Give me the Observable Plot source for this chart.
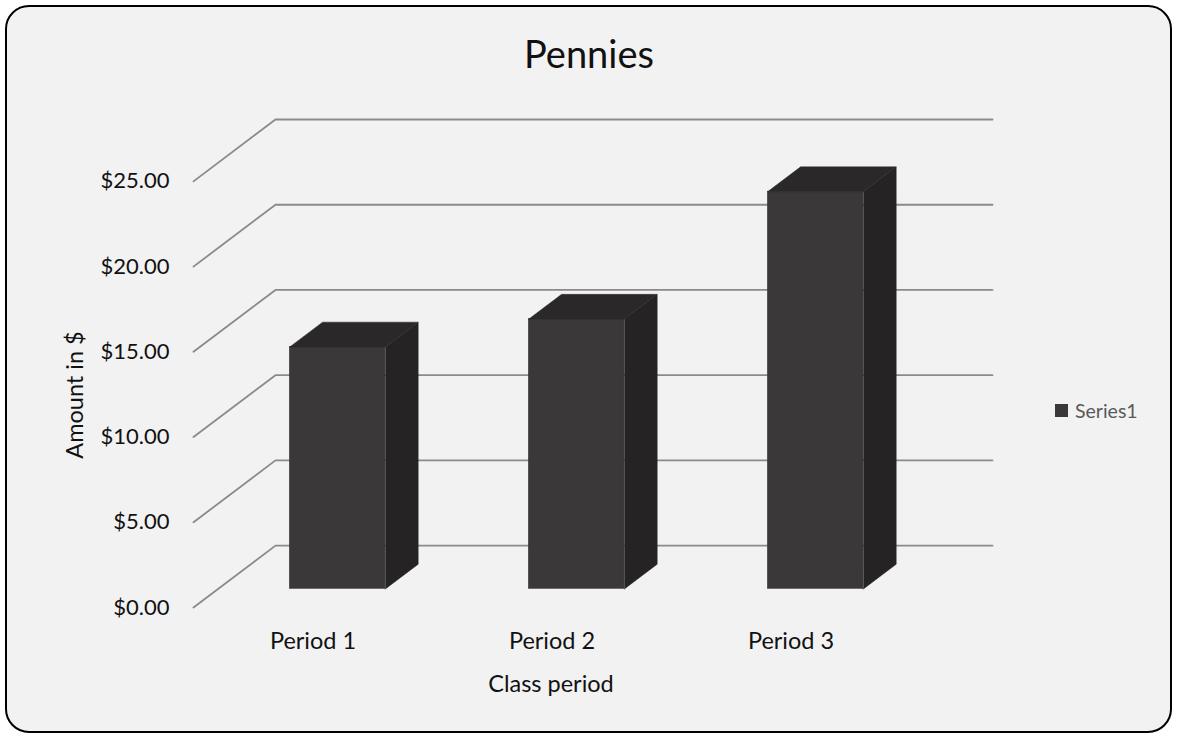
<!DOCTYPE html>
<html><head><meta charset="utf-8">
<script src="https://cdn.jsdelivr.net/npm/d3@7"></script>
<script src="https://cdn.jsdelivr.net/npm/@observablehq/plot@0.6"></script>
<style>
body{margin:0;background:#fff;font-family:Lato,sans-serif;}
#wrap{position:relative;width:1177px;height:734px;overflow:hidden}
#card{position:absolute;left:5px;top:5px;width:1167px;height:728px;box-sizing:border-box;border:2.5px solid #000;border-radius:24px;background:#f2f2f2}
#chart{position:absolute;left:0;top:0}
.t{position:absolute;white-space:nowrap;line-height:1;font-family:Lato,sans-serif}
#title{left:589px;top:34px;font-size:38px;color:#111;transform:translateX(-50%)}
#ytitle{left:75px;top:395px;font-size:23.5px;color:#111;transform:translate(-50%,-50%) rotate(-90deg)}
#xtitle{left:551px;top:672px;font-size:23.5px;color:#111;transform:translateX(-50%)}
#legend{left:1055px;top:401px;font-size:19.5px;color:#595959;display:flex;align-items:center;gap:7px}
#legend .sw{width:13px;height:13px;background:#3a3839;display:inline-block}
</style></head><body>
<div id="wrap"><div id="card"></div><div id="chart"></div>
<div class="t" id="title"></div>
<div class="t" id="ytitle"></div>
<div class="t" id="xtitle"></div>
<div class="t" id="legend"><span class="sw"></span><span id="legtext"></span></div>
</div>
<script>
// ---- data ----
const chartTitle = "Pennies";
const xTitle = "Class period";
const yTitle = "Amount in $";
const seriesName = "Series1";
const categories = ["Period 1", "Period 2", "Period 3"];
const values = [14.2, 15.83, 23.31];
const yTicks = [0, 5, 10, 15, 20, 25];

document.getElementById("title").textContent = chartTitle;
document.getElementById("xtitle").textContent = xTitle;
document.getElementById("ytitle").textContent = yTitle;
document.getElementById("legtext").textContent = seriesName;

// ---- 3D projection (oblique) in data units ----
const depth = {x: 0.343, y: 3.63};   // full depth offset: categories, dollars
const barFront = 0.3, barBack = 0.7, halfWidth = 0.2;
const proj = (x, y, d) => ({x: x + d * depth.x, y: y + d * depth.y});

const yMax = yTicks[yTicks.length - 1];
const nCat = categories.length;

const gridPts = yTicks.flatMap(v =>
  [proj(0, v, 0), proj(0, v, 1), proj(nCat, v, 1)].map(p => ({...p, v})));

const bars = categories.map((c, i) => ({c, i, v: values[i], x0: i + 0.5 - halfWidth, x1: i + 0.5 + halfWidth}));

const frontFaces = bars.map(b => {
  const a = proj(b.x0, 0, barFront), c = proj(b.x1, b.v, barFront);
  return {x1: a.x, y1: a.y, x2: c.x, y2: c.y};
});
const sideFaces = bars.flatMap(b => [
  proj(b.x1, 0, barFront), proj(b.x1, 0, barBack), proj(b.x1, b.v, barBack), proj(b.x1, b.v, barFront)
].map(p => ({...p, id: b.c})));
const topFaces = bars.flatMap(b => [
  proj(b.x0, b.v, barFront), proj(b.x0, b.v, barBack), proj(b.x1, b.v, barBack), proj(b.x1, b.v, barFront)
].map(p => ({...p, id: b.c})));

const plot = Plot.plot({
  width: 1177, height: 734,
  marginLeft: 193, marginRight: 185, marginTop: 119, marginBottom: 127,
  x: {type: "linear", domain: [0, nCat + depth.x]},
  y: {type: "linear", domain: [0, yMax + depth.y]},
  style: {background: "transparent", fontFamily: "Lato, sans-serif", fontSize: "22px", color: "#111", overflow: "visible"},
  marks: [
    Plot.line(gridPts, {x: "x", y: "y", z: "v", stroke: "#8a8a8a", strokeWidth: 1.8}),
    Plot.rect(frontFaces, {x1: "x1", x2: "x2", y1: "y1", y2: "y2", fill: "#3a3839", stroke: "#3a3839", strokeWidth: 0.5}),
    Plot.line(sideFaces, {x: "x", y: "y", z: "id", fill: "#252324", stroke: "#252324", strokeWidth: 0.5, curve: "linear-closed"}),
    Plot.line(topFaces, {x: "x", y: "y", z: "id", fill: "#2a2829", stroke: "#2a2829", strokeWidth: 0.5, curve: "linear-closed"}),
    Plot.axisY({ticks: yTicks, tickFormat: d3.format("$.2f"), tickSize: 0, tickPadding: 24, label: null, fontSize: 22}),
    Plot.axisX({ticks: categories.map((c, i) => i + 0.5), tickFormat: d => categories[Math.floor(d)], tickSize: 0, tickPadding: 25, label: null, fontSize: 23.5})
  ]
});
document.getElementById("chart").appendChild(plot);
</script>
</body></html>
